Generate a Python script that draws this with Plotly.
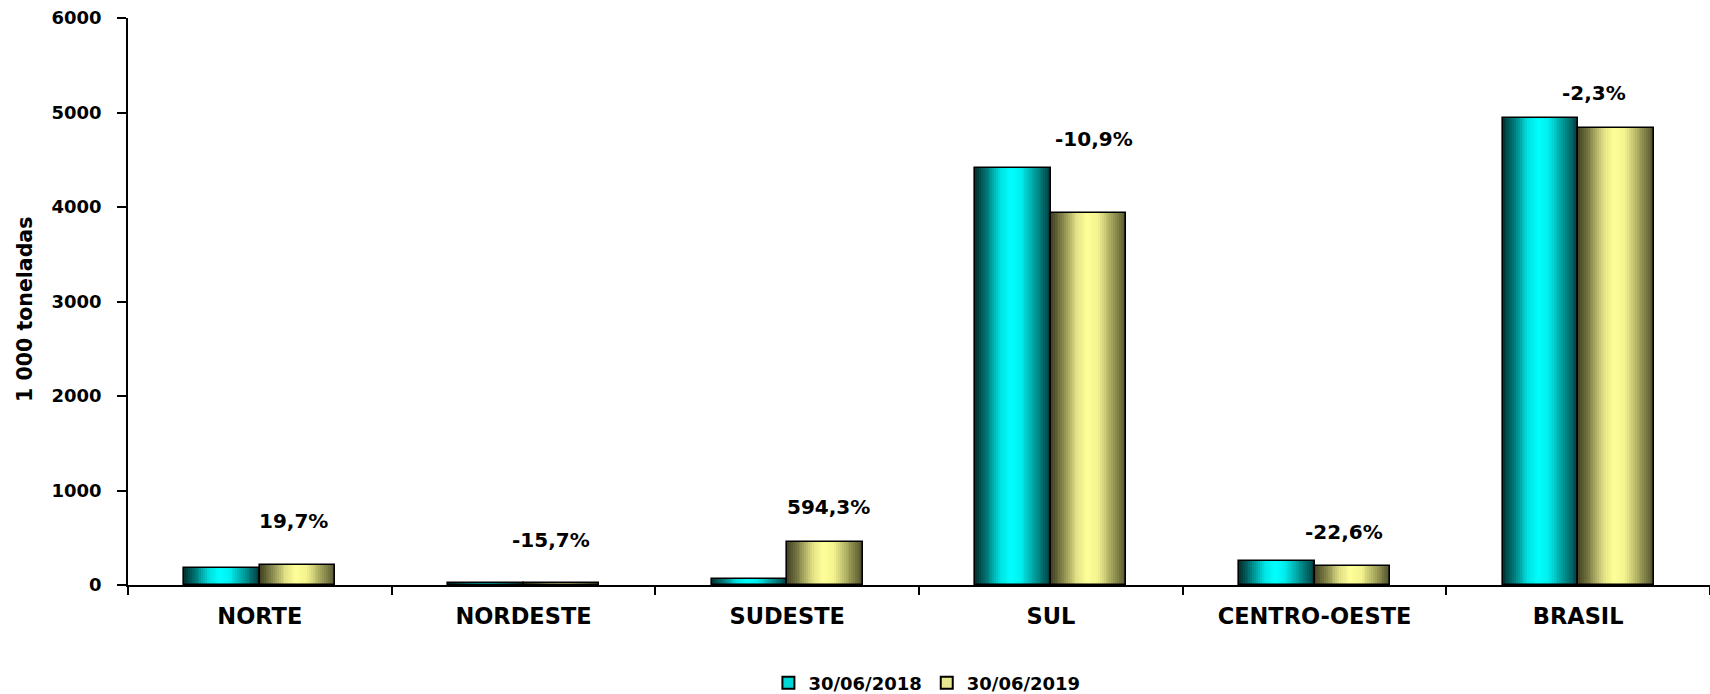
import plotly.graph_objects as go

# Estoques por região (1 000 toneladas)
regioes = ["NORTE", "NORDESTE", "SUDESTE", "SUL", "CENTRO-OESTE", "BRASIL"]
estoque_2018 = [180, 19, 66, 4416, 257, 4945]
estoque_2019 = [215, 16, 458, 3935, 199, 4831]
variacao = ["19,7%", "-15,7%", "594,3%", "-10,9%", "-22,6%", "-2,3%"]
series = ["30/06/2018", "30/06/2019"]

# Label placement (category offset, height in axis units)
label_dx = [0.128, 0.106, 0.155, 0.165, 0.11, 0.06]
label_y = [674, 472, 822, 4718, 557, 5210]

FONT = "DejaVu Sans"
BAR_W = 0.2865
N_STRIPS = 40

# Cylinder-like horizontal shading for each series
grad_cyan = [(0.0, (0, 48, 48)), (0.15, (0, 120, 120)), (0.33, (0, 225, 225)),
             (0.47, (0, 255, 255)), (0.6, (0, 240, 240)), (0.8, (0, 150, 150)),
             (1.0, (0, 58, 58))]
grad_yellow = [(0.0, (66, 66, 36)), (0.15, (128, 128, 72)), (0.33, (222, 222, 132)),
               (0.47, (255, 255, 153)), (0.62, (244, 244, 144)), (0.82, (158, 158, 88)),
               (1.0, (78, 78, 44))]


def shade(stops, t):
    for (p0, c0), (p1, c1) in zip(stops[:-1], stops[1:]):
        if p0 <= t <= p1:
            f = (t - p0) / (p1 - p0)
            c = [round(a + (b - a) * f) for a, b in zip(c0, c1)]
            return f"rgb({c[0]},{c[1]},{c[2]})"
    c = stops[-1][1]
    return f"rgb({c[0]},{c[1]},{c[2]})"


fig = go.Figure()

for values, stops, start, name, legend_color in [
    (estoque_2018, grad_cyan, -BAR_W, series[0], "#00d8d8"),
    (estoque_2019, grad_yellow, 0.0, series[1], "#e8e890"),
]:
    step = BAR_W / N_STRIPS
    for k in range(N_STRIPS):
        off = start + k * step
        fig.add_trace(go.Bar(
            x=regioes, y=values, offset=off, width=BAR_W - k * step,
            marker=dict(color=shade(stops, (k + 0.5) / N_STRIPS), line=dict(width=0)),
            showlegend=False, hoverinfo="skip",
        ))
    # outline
    fig.add_trace(go.Bar(
        x=regioes, y=values, offset=start, width=BAR_W,
        marker=dict(color="rgba(0,0,0,0)", line=dict(color="black", width=1.6)),
        showlegend=False, name=name,
    ))
    # legend entry
    fig.add_trace(go.Bar(
        x=regioes, y=[None] * len(regioes), name=name,
        marker=dict(color=legend_color, line=dict(color="black", width=1.5)),
        showlegend=True,
    ))

for i, txt in enumerate(variacao):
    fig.add_annotation(
        x=i + label_dx[i], y=label_y[i], xref="x", yref="y", text=txt,
        showarrow=False, font=dict(family=FONT, size=20, color="black", weight="bold"),
    )

fig.add_annotation(
    x=-(127.6 - 24) / 1582, y=0.5, xref="paper", yref="paper", yshift=-8, xshift=-14,
    text="1 000 toneladas", textangle=-90, showarrow=False,
    font=dict(family=FONT, size=20.5, color="black", weight="bold"),
)

fig.update_layout(
    width=1710, height=694,
    margin=dict(l=128, r=0, t=18, b=109, autoexpand=False),
    paper_bgcolor="white", plot_bgcolor="white",
    barmode="overlay", bargap=0,
    showlegend=True,
    legend=dict(
        orientation="h", x=0.505, xanchor="center",
        yref="container", y=1 - 683 / 694, yanchor="middle",
        font=dict(family=FONT, size=18, color="black", weight="bold"),
        itemsizing="constant", tracegroupgap=0, itemwidth=30,
    ),
    xaxis=dict(
        type="category", range=[-0.5, 5.5], showline=True, linecolor="black", linewidth=1.5,
        ticks="outside", tickson="boundaries", ticklen=8, tickcolor="black", tickwidth=1.5,
        showgrid=False, zeroline=False, ticklabelstandoff=10, automargin=False,
        tickfont=dict(family=FONT, size=22.5, color="black", weight="bold"),
    ),
    yaxis=dict(
        range=[0, 6000], dtick=1000, showline=True, linecolor="black", linewidth=1.5,
        ticks="outside", ticklen=9, tickcolor="black", tickwidth=1.5,
        showgrid=False, zeroline=False, ticklabelstandoff=12, automargin=False,
        tickfont=dict(family=FONT, size=18, color="black", weight="bold"),
    ),
)

fig.write_html("out.html")
